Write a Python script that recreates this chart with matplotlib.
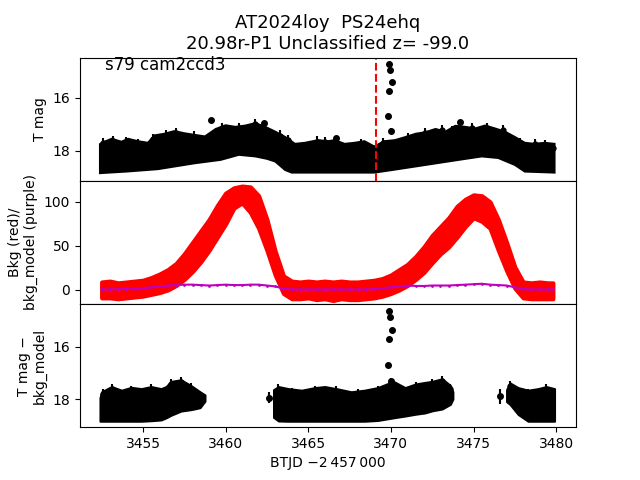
import numpy as np
import matplotlib
matplotlib.use("Agg")
import matplotlib.pyplot as plt

# top panel: bright (upper) and faint (lower) edges of the T mag band, BTJD - 2457000
top_t = [3452.4, 3452.6, 3453.1, 3453.7, 3454.1, 3454.7, 3455.3, 3455.7, 3456.3, 3456.9,
         3457.5, 3458.1, 3458.75, 3459.4, 3460.0, 3460.6, 3461.2, 3461.8, 3462.4, 3463.0,
         3463.6, 3464.2, 3464.8, 3465.6, 3466.2, 3466.6, 3467.2, 3467.8, 3468.4, 3469.0,
         3469.6, 3470.25, 3470.9, 3471.5, 3472.1, 3472.7, 3473.3, 3473.9, 3474.5, 3475.1,
         3475.7, 3476.3, 3476.9, 3477.5, 3478.1, 3478.7, 3479.3, 3479.9]
top_mag = [17.75, 17.68, 17.55, 17.66, 17.55, 17.64, 17.70, 17.42, 17.36, 17.26,
           17.34, 17.40, 17.46, 17.18, 17.04, 17.10, 17.05, 16.96, 17.10, 17.28,
           17.48, 17.74, 17.70, 17.60, 17.64, 17.60, 17.74, 17.70, 17.64, 17.84,
           17.64, 17.60, 17.48, 17.36, 17.30, 17.18, 17.28, 17.06, 17.10, 17.16,
           17.05, 17.16, 17.28, 17.48, 17.70, 17.74, 17.70, 17.74]
bot_t = [3452.4, 3454.0, 3455.9, 3458.1, 3459.7, 3460.8, 3461.8, 3462.5, 3463.0, 3463.6,
         3464.0, 3469.0, 3470.1, 3472.1, 3474.1, 3475.5, 3476.5, 3477.5, 3478.1, 3479.9]
bot_mag = [18.84, 18.78, 18.69, 18.47, 18.34, 18.15, 18.21, 18.30, 18.40, 18.72,
           18.82, 18.82, 18.72, 18.53, 18.34, 18.21, 18.27, 18.53, 18.78, 18.82]

# single measurements sticking out above the band
spike_t = [3452.6, 3453.2, 3454.0, 3454.7, 3455.6, 3456.4, 3457.0, 3458.1, 3459.8, 3460.8,
           3461.8, 3463.3, 3463.8, 3465.5, 3466.0, 3468.2, 3469.55, 3471.06, 3472.07, 3473.1,
           3473.7, 3474.9, 3475.8, 3476.8, 3477.8, 3478.7, 3479.3, 3479.8]
spike_mag = [17.52, 17.43, 17.48, 17.56, 17.36, 17.21, 17.14, 17.27, 16.95, 16.95,
             16.80, 17.23, 17.40, 17.46, 17.48, 17.56, 17.52, 17.33, 17.14, 17.02,
             17.08, 16.95, 16.95, 17.02, 17.52, 17.56, 17.58, 17.71]

# isolated points and the flare
iso_t = [3459.1, 3462.3, 3466.7, 3474.2]
iso_mag = [16.85, 16.95, 17.52, 16.92]
flare_t = [3469.90, 3469.93, 3470.05, 3469.88, 3469.85, 3469.98]
flare_mag = [14.72, 14.94, 15.41, 15.74, 16.68, 17.25]
flare_sub = [14.62, 14.85, 15.36, 15.70, 16.70, 17.30]
flare_err = [0.05, 0.05, 0.06, 0.06, 0.08, 0.10]

# middle panel: background (lower / upper edge) and background model
bkg_t = [3452.5, 3453.0, 3453.5, 3454.0, 3454.5, 3455.0, 3455.5, 3456.0, 3456.5, 3457.0,
         3457.5, 3458.0, 3458.5, 3459.0, 3459.5, 3460.0, 3460.5, 3461.0, 3461.5, 3462.0,
         3462.5, 3463.0, 3463.5, 3464.0, 3464.5, 3465.0, 3465.5, 3466.0, 3466.5, 3467.0,
         3467.5, 3468.0, 3468.5, 3469.0, 3469.5, 3470.0, 3470.5, 3471.0, 3471.5, 3472.0,
         3472.5, 3473.0, 3473.5, 3474.0, 3474.5, 3475.0, 3475.5, 3476.0, 3476.5, 3477.0,
         3477.5, 3478.0, 3478.5, 3479.0, 3479.5, 3479.8]
bkg_lo = [-9, -9, -10, -9, -8, -7, -5, -3, 0, 5,
          12, 21, 32, 45, 60, 75, 93, 99, 88, 70,
          45, 17, -4, -10, -10, -9, -11, -10, -12, -10,
          -11, -11, -10, -9, -7, -4, 0, 5, 12, 20,
          31, 41, 49, 60, 72, 82, 78, 70, 45, 22,
          2, -9, -10, -10, -10, -10]
bkg_hi = [9, 10, 8, 9, 10, 11, 14, 18, 23, 30,
          41, 54, 67, 80, 96, 110, 116, 118, 117, 107,
          80, 44, 16, 10, 9, 10, 9, 10, 9, 10,
          9, 9, 10, 11, 13, 17, 23, 29, 38, 49,
          62, 72, 82, 95, 103, 108, 107, 100, 80, 54,
          26, 9, 8, 9, 8, 8]
bkg_model = [0.5, 0.5, 0.8, 1.0, 1.5, 2.0, 3.0, 4.0, 5.0, 5.5,
             6.0, 6.0, 5.5, 5.0, 5.5, 6.0, 5.5, 5.5, 6.0, 6.0,
             5.0, 4.0, 1.5, 0.5, 0.5, 0.5, 0.5, 0.5, 0.5, 0.5,
             0.5, 0.5, 0.5, 1.0, 2.0, 3.0, 4.0, 5.0, 4.5, 4.5,
             5.0, 5.0, 5.0, 5.5, 6.0, 6.5, 7.0, 6.0, 5.5, 5.0,
             3.0, 1.0, 0.5, 0.5, 0.5, 0.5]

# bottom panel: T mag - bkg_model where the background is low (three stretches)
sub_t = [3452.4, 3452.5, 3453.1, 3453.7, 3454.3, 3454.9, 3455.5, 3456.1, 3456.4, 3456.7,
         3457.3, 3457.95, 3458.45, 3458.75,
         3462.9, 3463.2, 3463.8, 3464.6, 3465.4, 3466.0, 3466.7, 3467.6, 3468.4, 3469.2,
         3470.15, 3470.86, 3471.5, 3472.07, 3472.5, 3473.1, 3473.6, 3473.75,
         3477.0, 3477.2, 3477.7, 3478.3, 3478.9, 3479.4, 3479.9]
sub_hi = [17.95, 17.72, 17.52, 17.66, 17.55, 17.60, 17.52, 17.60, 17.52, 17.32,
          17.26, 17.50, 17.72, 17.84,
          17.64, 17.52, 17.60, 17.66, 17.56, 17.52, 17.60, 17.72, 17.66, 17.56,
          17.32, 17.56, 17.42, 17.36, 17.32, 17.22, 17.48, 17.72,
          17.64, 17.38, 17.56, 17.66, 17.60, 17.52, 17.60]
sub_lo = [18.85, 18.85, 18.85, 18.85, 18.85, 18.85, 18.83, 18.80, 18.72, 18.62,
          18.46, 18.40, 18.33, 18.08,
          18.70, 18.84, 18.85, 18.85, 18.85, 18.85, 18.85, 18.85, 18.85, 18.82,
          18.72, 18.65, 18.58, 18.53, 18.45, 18.38, 18.20, 18.00,
          18.10, 18.20, 18.59, 18.85, 18.85, 18.85, 18.85]
sub_spike_t = [3452.6, 3453.1, 3454.3, 3455.5, 3456.7, 3457.3, 3457.9, 3463.2, 3464.0, 3465.4,
               3466.7, 3468.0, 3469.2, 3470.15, 3471.5, 3472.5, 3473.1, 3473.6, 3477.2, 3478.3,
               3479.4]
sub_spike_mag = [17.60, 17.42, 17.50, 17.44, 17.22, 17.16, 17.40, 17.44, 17.56, 17.50,
                 17.48, 17.62, 17.48, 17.22, 17.36, 17.22, 17.10, 17.42, 17.30, 17.60,
                 17.44]
lone_t = [3462.6, 3476.6]
lone_mag = [17.95, 17.90]
lone_err = [0.22, 0.28]

trigger_t = 3469.08

fig, axes = plt.subplots(3, 1, sharex=True, figsize=(6.4, 4.8), dpi=100)
fig.subplots_adjust(hspace=0)
ax1, ax2, ax3 = axes

# top: T mag
ax1.fill(np.concatenate([top_t, bot_t[::-1]]), np.concatenate([top_mag, bot_mag[::-1]]),
         color='k', lw=1.5)
ax1.errorbar(spike_t, np.array(spike_mag) + 0.2, yerr=0.2, fmt='o', color='k', ms=3.5,
             elinewidth=1.5)
ax1.errorbar(iso_t, iso_mag, yerr=0.08, fmt='o', color='k', ms=4)
ax1.errorbar(flare_t, flare_mag, yerr=flare_err, fmt='o', color='k', ms=4)
ax1.axvline(trigger_t, color='r', ls='--')
ax1.text(0.05, 0.9, 's79 cam2ccd3', transform=ax1.transAxes, fontsize=12)
ax1.set_ylim(19.13, 14.49)
ax1.set_yticks([16, 18])
ax1.set_ylabel('T mag')
ax1.set_title('AT2024loy  PS24ehq\n20.98r-P1 Unclassified z= -99.0', fontsize=13)

# middle: background
ax2.fill_between(bkg_t, bkg_lo, bkg_hi, color='r', edgecolor='r', lw=3, joinstyle='round')
ax2.plot(bkg_t, bkg_model, '.-', color='m', lw=1.5, ms=2)
ax2.set_ylim(-16, 124)
ax2.set_yticks([0, 50, 100])
ax2.set_ylabel('Bkg (red)/\nbkg_model (purple)')

# bottom: background subtracted, one band per continuous stretch
sub_t = np.array(sub_t)
cuts = np.where(np.diff(sub_t) > 1.0)[0] + 1
for idx in np.split(np.arange(len(sub_t)), cuts):
    ax3.fill_between(sub_t[idx], np.array(sub_hi)[idx], np.array(sub_lo)[idx],
                     color='k', lw=1.5, edgecolor='k')
ax3.errorbar(sub_spike_t, np.array(sub_spike_mag) + 0.2, yerr=0.2, fmt='o', color='k',
             ms=3.5, elinewidth=1.5)
ax3.errorbar(lone_t, lone_mag, yerr=lone_err, fmt='o', color='k', ms=4, elinewidth=1.5)
ax3.errorbar(flare_t, flare_sub, yerr=flare_err, fmt='o', color='k', ms=4)
ax3.set_ylim(19.08, 14.35)
ax3.set_yticks([16, 18])
ax3.set_ylabel('T mag \u2212\nbkg_model')
ax3.set_xlim(3451.19, 3481.2)
ax3.set_xticks([3455, 3460, 3465, 3470, 3475, 3480])
ax3.set_xlabel('BTJD \u22122\u2009457\u2009000')

fig.savefig('out.png', dpi=100)
